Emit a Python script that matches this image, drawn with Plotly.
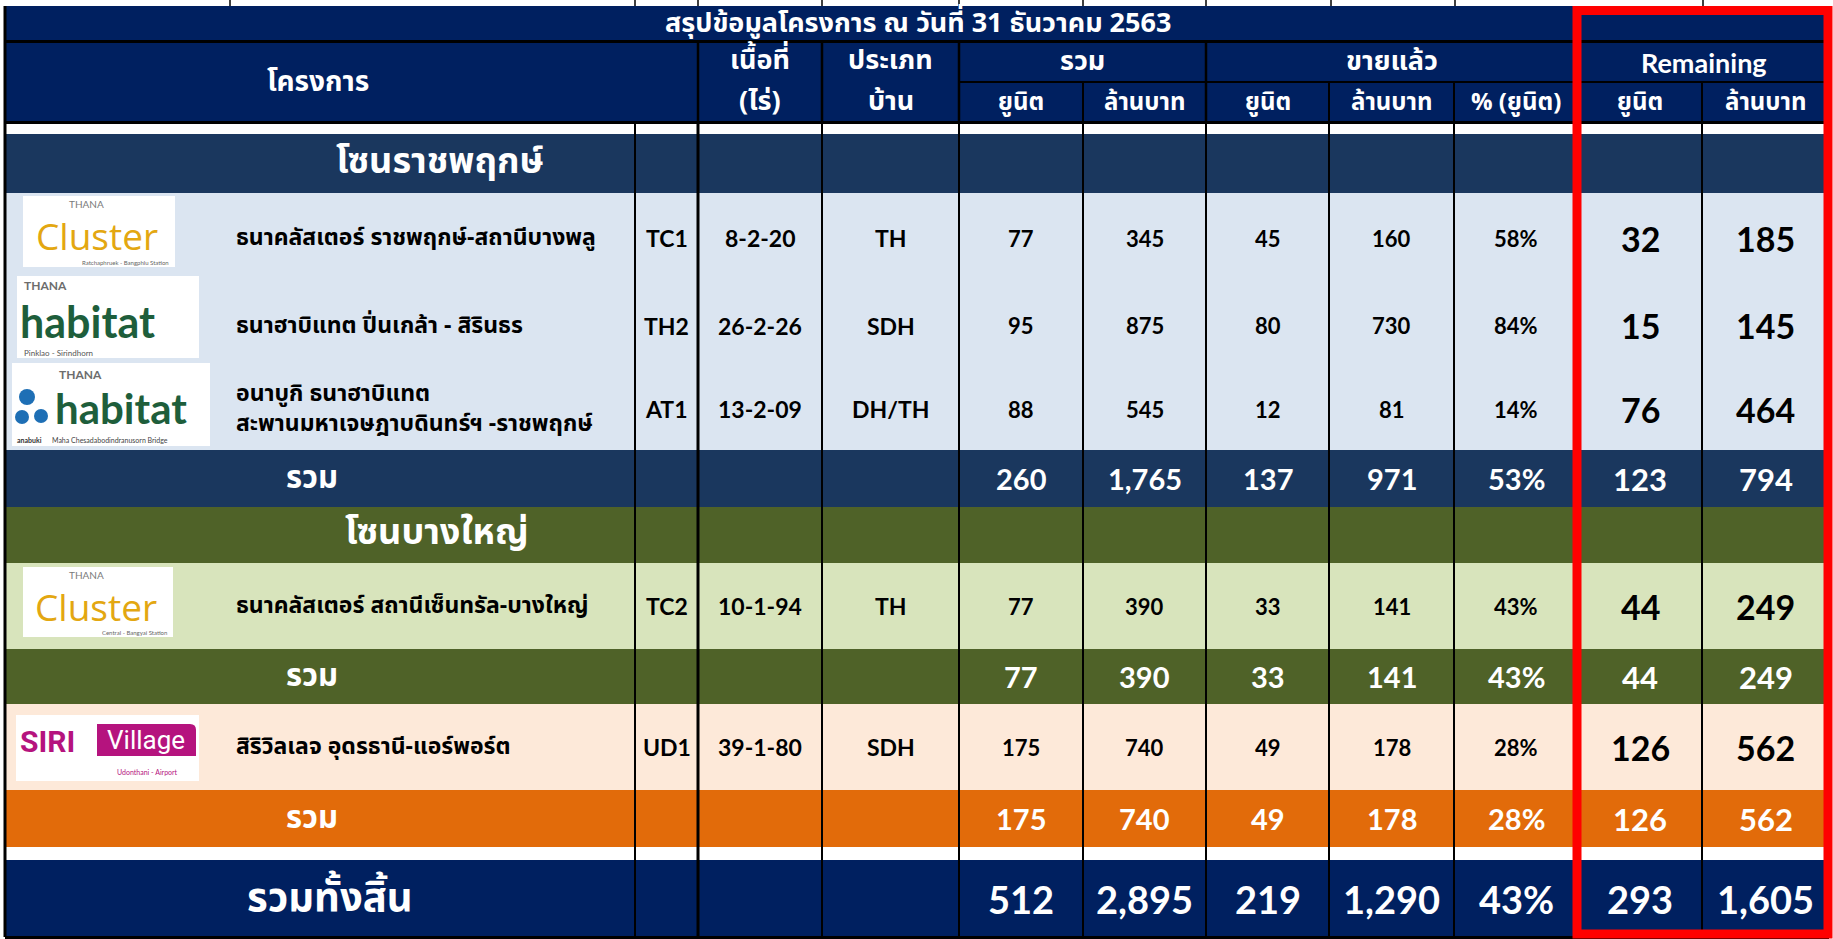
import plotly.graph_objects as go

# ---------------- data ----------------
title_text = "สรุปข้อมูลโครงการ ณ วันที่ 31 ธันวาคม 2563"
head_project = "โครงการ"
head_area = ["เนื้อที่", "(ไร่)"]
head_type = ["ประเภท", "บ้าน"]
head_groups = ["รวม", "ขายแล้ว", "Remaining"]
head_sub = ["ยูนิต", "ล้านบาท", "ยูนิต", "ล้านบาท", "% (ยูนิต)", "ยูนิต", "ล้านบาท"]

zones = ["โซนราชพฤกษ์", "โซนบางใหญ่"]
subtotal_label = "รวม"
grand_label = "รวมทั้งสิ้น"

project_names = [
    "ธนาคลัสเตอร์ ราชพฤกษ์-สถานีบางพลู",
    "ธนาฮาบิแทต ปิ่นเกล้า - สิรินธร",
    "อนาบูกิ ธนาฮาบิแทต<br>สะพานมหาเจษฎาบดินทร์ฯ -ราชพฤกษ์",
    "ธนาคลัสเตอร์ สถานีเซ็นทรัล-บางใหญ่",
    "สิริวิลเลจ อุดรธานี-แอร์พอร์ต",
]
codes = ["TC1", "TH2", "AT1", "TC2", "UD1"]
areas = ["8-2-20", "26-2-26", "13-2-09", "10-1-94", "39-1-80"]
house_types = ["TH", "SDH", "DH/TH", "TH", "SDH"]
total_units = [77, 95, 88, 77, 175]
total_mb = [345, 875, 545, 390, 740]
sold_units = [45, 80, 12, 33, 49]
sold_mb = [160, 730, 81, 141, 178]
sold_pct = [58, 84, 14, 43, 28]
rem_units = [32, 15, 76, 44, 126]
rem_mb = [185, 145, 464, 249, 562]

sub1 = [260, 1765, 137, 971, 53, 123, 794]
sub2 = [77, 390, 33, 141, 43, 44, 249]
sub3 = [175, 740, 49, 178, 28, 126, 562]
grand = [512, 2895, 219, 1290, 43, 293, 1605]

# ---------------- layout constants ----------------
W, H = 1833, 939
col_edges = [5, 635, 698, 822, 959, 1083, 1206, 1329, 1454, 1578, 1702, 1829]
NAVY = "#002060"
ZONE1 = "#1A375E"
LBLUE = "#DBE5F1"
GDARK = "#4F6228"
LGREEN = "#D8E4BC"
PEACH = "#FDE9D9"
ORANGE = "#E26B0A"

THAI = "Tahoma, 'Noto Sans Thai', 'Noto Sans', sans-serif"
NUM = "Lato, 'Open Sans', sans-serif"

shapes = []
ann = []


def rect(x0, y0, x1, y1, fill, line_color=None, lw=0, layer="below"):
    shapes.append(dict(type="rect", xref="x", yref="y", x0=x0, x1=x1, y0=y0, y1=y1,
                       fillcolor=fill, line=dict(color=line_color or fill, width=lw),
                       layer=layer))


def vline(x, y0, y1, color="black", w=2):
    shapes.append(dict(type="line", xref="x", yref="y", x0=x, x1=x, y0=y0, y1=y1,
                       line=dict(color=color, width=w), layer="above"))


def hline(y, x0, x1, color="black", w=2):
    shapes.append(dict(type="line", xref="x", yref="y", x0=x0, x1=x1, y0=y, y1=y,
                       line=dict(color=color, width=w), layer="above"))


def text(x, y, s, size, color="white", family=THAI, bold=True, xanchor="center", align="center"):
    ann.append(dict(x=x, y=y, xref="x", yref="y", text=("<b>%s</b>" % s) if bold else s,
                    showarrow=False, xanchor=xanchor, yanchor="middle", align=align,
                    font=dict(size=size, color=color, family=family)))


def fmt(v):
    return "{:,}".format(v)


def ccenter(i):
    return (col_edges[i] + col_edges[i + 1]) / 2


# ---------------- header ----------------
rect(5, 6, 1829, 40, NAVY)
hline(41.5, 5, 1829, w=3)
rect(5, 43, 1829, 121, NAVY)
hline(82, 959, 1829, w=2)
hline(122.5, 5, 1829, w=3)
for x in [698, 822, 959, 1206]:
    vline(x, 42, 121, w=2.5)
for x in [1083, 1329, 1454, 1702]:
    vline(x, 82, 121, w=2)
vline(5, 6, 937, w=3)

text(918, 23, title_text, 27)
text(318, 82, head_project, 28)
text(ccenter(2), 60, head_area[0], 27)
text(ccenter(2), 101, head_area[1], 27)
text(ccenter(3), 60, head_type[0], 27)
text(ccenter(3), 101, head_type[1], 27)
text((959 + 1206) / 2, 61, head_groups[0], 27)
text((1206 + 1578) / 2, 61, head_groups[1], 27)
text((1578 + 1829) / 2, 62, head_groups[2], 27, family=NUM)
for i, s in enumerate(head_sub):
    text(ccenter(4 + i), 103, s, 24)

# ---------------- body rows ----------------
row_defs = [
    ("zone", 134, 193, ZONE1, 0),
    ("proj", 193, 283, LBLUE, 0),
    ("proj", 283, 368, LBLUE, 1),
    ("proj", 368, 450, LBLUE, 2),
    ("sub", 450, 507, ZONE1, sub1),
    ("zone", 507, 563, GDARK, 1),
    ("proj", 563, 649, LGREEN, 3),
    ("sub", 649, 704, GDARK, sub2),
    ("proj", 704, 790, PEACH, 4),
    ("sub", 790, 847, ORANGE, sub3),
    ("grand", 860, 937, NAVY, grand),
]

for kind, y0, y1, fill, ref in row_defs:
    rect(6, y0, 1829, y1, fill)
    yc = (y0 + y1) / 2
    if kind == "zone":
        text(440 if ref == 0 else 437, yc - 2, zones[ref], 36)
    elif kind == "proj":
        i = ref
        text(234, yc, project_names[i], 23, color="black", xanchor="left", align="left")
        text(ccenter(1), yc, codes[i], 23, color="black", family=NUM)
        text(ccenter(2), yc, areas[i], 23, color="black", family=NUM)
        text(ccenter(3), yc, house_types[i], 23, color="black", family=NUM)
        vals = [fmt(total_units[i]), fmt(total_mb[i]), fmt(sold_units[i]), fmt(sold_mb[i]),
                "%d%%" % sold_pct[i]]
        for k, v in enumerate(vals):
            text(ccenter(4 + k), yc, v, 22, color="black", family=NUM)
        text(ccenter(9), yc, fmt(rem_units[i]), 34, color="black", family=NUM)
        text(ccenter(10), yc, fmt(rem_mb[i]), 34, color="black", family=NUM)
    elif kind == "sub":
        text(312, yc, subtotal_label, 31)
        for k, v in enumerate(ref):
            s = ("%d%%" % v) if k == 4 else fmt(v)
            text(ccenter(4 + k), yc, s, 29 if k < 5 else 31, family=NUM)
    elif kind == "grand":
        text(330, yc, grand_label, 40)
        for k, v in enumerate(ref):
            s = ("%d%%" % v) if k == 4 else fmt(v)
            text(ccenter(4 + k), yc, s, 38, family=NUM)

hline(937.5, 5, 1829, w=3)

# column rules through the body and the white gaps
for x in col_edges[1:-1]:
    vline(x, 124, 937, w=3 if x == 698 else 2)
for x in [230, 635, 698, 822, 959, 1083, 1206, 1331, 1455, 1703]:
    vline(x, 0, 6, w=1.5)

# ---------------- logos (drawn as text) ----------------
GOLD = "#E3A711"
HGREEN = "#1E5E3B"
MAGENTA = "#B5137E"


def cluster_logo(x0, y0, x1, y1, sub):
    rect(x0, y0, x1, y1, "white", layer="above")
    text((x0 + x1) / 2 - 2, y0 + 39, "Cluster", 37, color=GOLD, family="'Open Sans'", bold=False)
    text(x0 + 44, y0 + 8, "THANA", 10, color="#7a7a7a", family="Lato", bold=False, xanchor="left")
    text(x1 - 4, y1 - 5, sub, 6, color="#666", family="Lato", bold=False, xanchor="right")


cluster_logo(23, 196, 175, 267, "Ratchaphruek - Bangphlu Station")
cluster_logo(23, 567, 173, 637, "Central - Bangyai Station")

rect(17, 276, 199, 358, "white", layer="above")
text(22, 285, "THANA", 12, color="#6d6d6d", family="Lato", xanchor="left")
text(18, 321, "habitat", 43, color=HGREEN, family="Lato", xanchor="left")
text(22, 353, "Pinklao - Sirindhorn", 8, color="#555", family="Lato", bold=False, xanchor="left")

rect(12, 363, 210, 446, "white", layer="above")
text(57, 374, "THANA", 12, color="#6d6d6d", family="Lato", xanchor="left")
text(53, 408, "habitat", 42, color=HGREEN, family="Lato", xanchor="left")
text(15, 440, "anabuki", 7, color="#333", family="Lato", xanchor="left")
text(50, 440, "Maha Chesadabodindranusorn Bridge", 7, color="#444", family="Lato", bold=False, xanchor="left")
for cx, cy, r in [(27, 397, 8), (22, 417, 7), (41, 416, 7)]:
    shapes.append(dict(type="circle", xref="x", yref="y", x0=cx - r, x1=cx + r, y0=cy - r, y1=cy + r,
                       fillcolor="#1E6FB5", line=dict(width=0), layer="above"))

rect(16, 715, 199, 781, "white", layer="above")
text(18, 741, "SIRI", 30, color=MAGENTA, family="Roboto", xanchor="left")
shapes.append(dict(type="path", xref="x", yref="y",
                   path="M 97 724 L 190 724 Q 196 724 196 730 L 196 756 L 97 756 Z",
                   fillcolor=MAGENTA, line=dict(width=0), layer="above"))
text(146, 740, "Village", 26, color="white", family="Roboto", bold=False)
text(180, 772, "Udonthani - Airport", 7, color=MAGENTA, family="Lato", bold=False, xanchor="right")

# ---------------- red highlight box ----------------
shapes.append(dict(type="rect", xref="x", yref="y", x0=1577, x1=1828, y0=10.5, y1=934,
                   fillcolor="rgba(0,0,0,0)", line=dict(color="#FF0000", width=9), layer="above"))

fig = go.Figure()
fig.add_trace(go.Scatter(x=[0, W], y=[0, H], mode="markers", marker=dict(opacity=0),
                         hoverinfo="skip", showlegend=False))
fig.update_layout(
    width=W, height=H, margin=dict(l=0, r=0, t=0, b=0),
    paper_bgcolor="white", plot_bgcolor="white",
    xaxis=dict(range=[0, W], visible=False, fixedrange=True),
    yaxis=dict(range=[H, 0], visible=False, fixedrange=True),
    shapes=shapes, annotations=ann, showlegend=False,
)
fig.write_html("out.html", config={"displayModeBar": False},
               post_script="document.body.style.margin='0';document.body.style.overflow='hidden';")
